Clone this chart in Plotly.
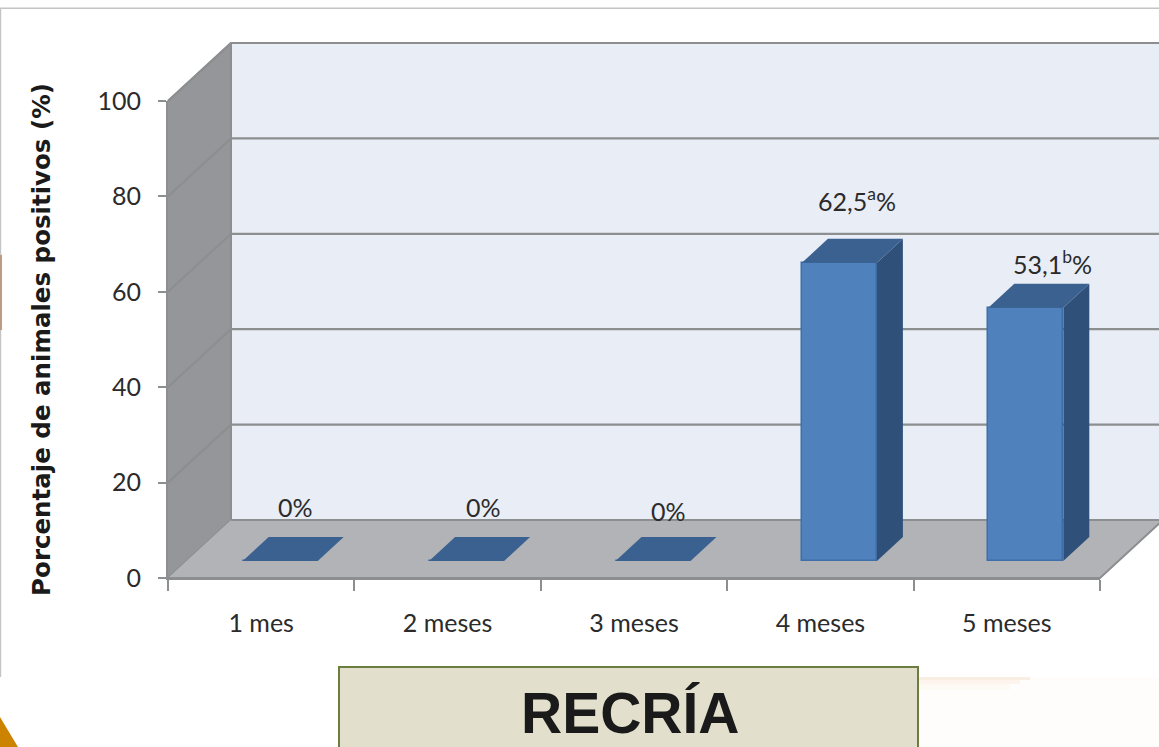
import plotly.graph_objects as go

# ---- data ----
categories = ["1 mes", "2 meses", "3 meses", "4 meses", "5 meses"]
values = [0, 0, 0, 62.5, 53.1]
value_labels = ["0%", "0%", "0%", "62,5<sup>a</sup>%", "53,1<sup>b</sup>%"]
label_shift_x = [34, 36, 34, 37, 46]
label_shift_y = [54, 54, 50, 63, 45]
y_ticks = [0, 20, 40, 60, 80, 100]
y_title = "Porcentaje de animales positivos (%)"
box_title = "RECRÍA"

# ---- layout constants ----
W, H = 1159, 747
X0, X1, Y0, Y100 = 168, 1100, 578, 101
ux = (X1 - X0) / 5
uy = (Y0 - Y100) / 100
wall_dx, wall_dy = 63 / ux, 58 / uy
bar_dx, bar_dy = 19 / ux, 17 / uy
top_dx, top_dy = 26 / ux, 24 / uy
bar_w = 75 / ux
TEXT = "#2b2b2b"
LINE = "#8d8e90"
FONT = "Lato"


def poly(xs, ys, fill, xa="x", ya="y", line=None, lw=0):
    return go.Scatter(x=xs, y=ys, mode="lines", fill="toself", fillcolor=fill,
                      line=dict(color=line or fill, width=lw), hoverinfo="skip",
                      showlegend=False, xaxis=xa, yaxis=ya)


L, R = -0.5, 4.5
fig = go.Figure()
# back wall, side wall, floor
fig.add_trace(poly([L + wall_dx, R + wall_dx, R + wall_dx, L + wall_dx],
                   [wall_dy, wall_dy, 100 + wall_dy, 100 + wall_dy], "#e9edf6"))
fig.add_trace(poly([L, L + wall_dx, L + wall_dx, L], [100, 100 + wall_dy, wall_dy, 0],
                   "#949699", line=LINE, lw=2))
fig.add_trace(poly([L, R, R + wall_dx, L + wall_dx], [0, 0, wall_dy, wall_dy],
                   "#b1b3b7", line=LINE, lw=2))
# gridlines on the walls
for v in y_ticks[1:]:
    fig.add_trace(go.Scatter(x=[L, L + wall_dx, R + wall_dx], y=[v, v + wall_dy, v + wall_dy],
                             mode="lines", line=dict(color=LINE, width=2.2), hoverinfo="skip",
                             showlegend=False, xaxis="x", yaxis="y"))

# bar side and top faces, from the values
for i, v in enumerate(values):
    xl = i - bar_w / 2 + bar_dx
    xr = i + bar_w / 2 + bar_dx
    b = bar_dy
    t = v + bar_dy
    if v > 0:
        fig.add_trace(poly([xr, xr + top_dx, xr + top_dx, xr],
                           [b, b + top_dy, t + top_dy, t], "#2f5179", "x2", "y2"))
    fig.add_trace(poly([xl, xr, xr + top_dx, xl + top_dx],
                       [t, t, t + top_dy, t + top_dy], "#3a6190", "x2", "y2"))

# bar fronts
fig.add_trace(go.Bar(x=list(range(5)), y=values, base=bar_dy, width=bar_w,
                     offset=bar_dx - bar_w / 2, xaxis="x2", yaxis="y2",
                     marker=dict(color="#4f81bd", line=dict(color="#3f6fa8", width=1.5)),
                     showlegend=False, hoverinfo="skip"))

annotations = [
    dict(x=i, y=v + bar_dy, xref="x2", yref="y2", text=t, showarrow=False,
         xshift=sx, yshift=sy, font=dict(family=FONT, size=25, color=TEXT))
    for i, (v, t, sx, sy) in enumerate(zip(values, value_labels, label_shift_x, label_shift_y))
]
annotations.append(dict(x=630 / W, y=1 - 713 / H, xref="paper", yref="paper", text="<b>%s</b>" % box_title,
                        xanchor="center", yanchor="middle", showarrow=False,
                        font=dict(family="Liberation Sans", size=57, color="#1a1a1a")))


def px(v):
    return v / W


def py(v):
    return 1 - v / H


def prect(x0, y0, x1, y1, fill, line=None, lw=0, layer="above"):
    return dict(type="rect", xref="paper", yref="paper", x0=px(x0), x1=px(x1), y0=py(y0), y1=py(y1),
                fillcolor=fill, line=dict(color=line or fill, width=lw), layer=layer)


shapes = [
    prect(0, 7.5, W, 9, "#c4c4c4"),
    prect(0, 8, 1.2, 677, "#c4c4c4"),
    prect(0, 255, 2, 330, "#bd9c82"),
    prect(918, 677, W, H, "#fefdfb"),
    prect(918, 677, 1030, 680, "rgba(240,205,170,0.30)"),
    prect(918, 680, 1020, 684, "rgba(245,215,185,0.22)"),
    prect(918, 684, 1010, 690, "rgba(250,230,205,0.16)"),
    prect(339, 667, 918, H + 10, "#e2e0cc", line="#6b7d3f", lw=2),
    dict(type="path", xref="paper", yref="paper", fillcolor="#cc8400", line=dict(width=0),
         path="M 0 %.4f L %.4f 0 L 0 0 Z" % (py(717), px(18))),
]

fig.update_layout(
    width=W, height=H, margin=dict(l=0, r=0, t=0, b=0, autoexpand=False), autosize=False,
    paper_bgcolor="white", plot_bgcolor="rgba(0,0,0,0)", showlegend=False,
    bargap=0, annotations=annotations, shapes=shapes,
    # geometry axes filling the page, same units as the chart axes
    xaxis=dict(domain=[0, 1], range=[L - X0 / ux, L + (W - X0) / ux], visible=False, fixedrange=True),
    yaxis=dict(domain=[0, 1], range=[-(H - Y0) / uy, Y0 / uy], visible=False, fixedrange=True),
    # chart axes on the front plane
    xaxis2=dict(domain=[X0 / W, X1 / W], range=[L, R], anchor="y2", tickmode="array",
                tickvals=list(range(5)), ticktext=categories, ticks="", showgrid=False, zeroline=False,
                showline=True, linecolor=LINE, linewidth=2, ticklabelstandoff=22, automargin=False,
                tickfont=dict(family=FONT, size=25, color=TEXT),
                minor=dict(tickmode="array", tickvals=[L + k for k in range(6)], ticks="outside",
                           ticklen=11, tickwidth=2, tickcolor=LINE, showgrid=False)),
    yaxis2=dict(domain=[1 - Y0 / H, 1 - Y100 / H], range=[0, 100], anchor="x2", tickmode="array",
                tickvals=y_ticks, ticks="outside", ticklen=8, tickwidth=2, tickcolor=LINE,
                showgrid=False, zeroline=False, showline=True, linecolor=LINE, linewidth=2,
                ticklabelstandoff=12, automargin=False, tickfont=dict(family=FONT, size=25, color=TEXT),
                title=dict(text="<b>%s</b>" % y_title, standoff=40,
                           font=dict(family="DejaVu Sans", size=24.5, color="#1a1a1a"))),
)

fig.write_html("out.html", config={"displayModeBar": False},
               post_script="document.body.style.margin='0';")
